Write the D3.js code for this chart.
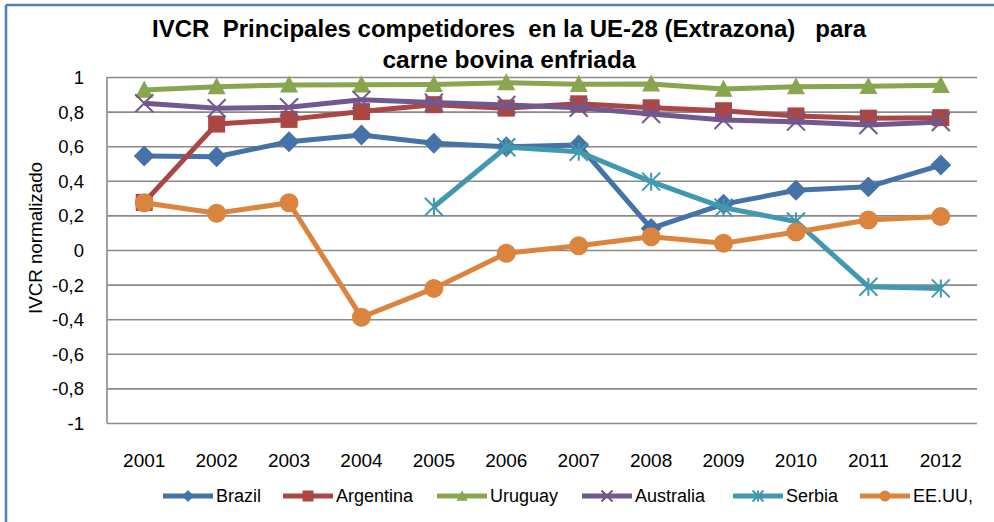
<!DOCTYPE html>
<html><head><meta charset="utf-8">
<script src="https://cdn.jsdelivr.net/npm/d3@7"></script>
<style>
html,body{margin:0;padding:0;background:#fff;}
svg{display:block;}
text{font-family:"Liberation Sans","DejaVu Sans",sans-serif;fill:#000;}
</style></head>
<body>
<svg id="chart" width="994" height="522"></svg>
<script>
const years = ["2001","2002","2003","2004","2005","2006","2007","2008","2009","2010","2011","2012"];
const yTicks = [1,0.8,0.6,0.4,0.2,0,-0.2,-0.4,-0.6,-0.8,-1];
const brazil    = [0.543,0.539,0.626,0.665,0.617,0.597,0.607,0.125,0.265,0.345,0.365,0.491];
const argentina = [0.275,0.728,0.755,0.800,0.840,0.820,0.845,0.822,0.805,0.775,0.762,0.765];
const uruguay   = [0.925,0.944,0.954,0.955,0.957,0.967,0.958,0.960,0.930,0.944,0.946,0.952];
const australia = [0.848,0.819,0.825,0.868,0.852,0.838,0.822,0.786,0.751,0.742,0.723,0.740];
const serbia    = [null,null,null,null,0.250,0.594,0.568,0.395,0.245,0.165,-0.212,-0.222];
const eeuu      = [0.273,0.212,0.273,-0.389,-0.222,-0.019,0.025,0.077,0.039,0.104,0.173,0.193];
const seriesNames = ["Brazil","Argentina","Uruguay","Australia","Serbia","EE.UU,"];
const seriesColors = ["#4572A7","#AA4643","#89A54E","#71588F","#4198AF","#DB843D"];
const seriesMarkers = ["diamond","square","triangle","x","star","circle"];
const seriesValues = [brazil,argentina,uruguay,australia,serbia,eeuu];
const titleLines = ["IVCR  Principales competidores  en la UE-28 (Extrazona)   para","carne bovina enfriada"];
const yLabel = "IVCR normalizado";

const svg = d3.select("#chart");
const M = {left:107, right:977, top:77, bottom:423};

// outer frame
svg.append("line").attr("x1",6).attr("x2",994).attr("y1",5).attr("y2",5).attr("stroke","#4F81BD").attr("stroke-width",2.5);
svg.append("line").attr("x1",6).attr("x2",6).attr("y1",5).attr("y2",522).attr("stroke","#4F81BD").attr("stroke-width",2.5);

const x = d3.scaleBand().domain(years).range([M.left+1, M.right]).paddingInner(0).paddingOuter(0);
const y = d3.scaleLinear().domain([-1,1]).range([M.bottom, M.top]);
const cx = d => x(d) + x.bandwidth()/2;

// gridlines
const yAxis = d3.axisLeft(y).tickValues(yTicks).tickSize(-(M.right-M.left)).tickFormat(d => d3.format("~g")(d).replace(".",",").replace("−","-"));
const gy = svg.append("g").attr("transform",`translate(${M.left},0)`).call(yAxis);
gy.select(".domain").remove();
gy.selectAll(".tick line").attr("stroke","#8a8a8a").attr("stroke-width",1.6);
gy.selectAll(".tick text").attr("x",-23).attr("dy","0.35em").style("font-size","18.5px").style("font-family","Liberation Sans");
// left axis line
svg.append("line").attr("x1",M.left).attr("x2",M.left).attr("y1",M.top).attr("y2",M.bottom).attr("stroke","#8a8a8a").attr("stroke-width",1.6);

// x axis labels
const xAxis = d3.axisBottom(x).tickSize(0).tickPadding(0);
const gx = svg.append("g").attr("transform",`translate(0,${M.bottom})`).call(xAxis);
gx.select(".domain").remove();
gx.selectAll(".tick text").attr("y",37).attr("dy","0.35em").style("font-size","19px").style("font-family","Liberation Sans");

// y label
svg.append("text").attr("transform","translate(36,238) rotate(-90)").attr("text-anchor","middle").attr("dy","0.35em")
  .style("font-size","18px").attr("textLength",152).attr("lengthAdjust","spacingAndGlyphs").text(yLabel);

// title
svg.append("text").attr("x",509).attr("y",37).attr("text-anchor","middle").style("font-size","23px").style("font-weight","bold")
  .style("white-space","pre").attr("xml:space","preserve")
  .attr("textLength",714).attr("lengthAdjust","spacingAndGlyphs").text(titleLines[0]);
svg.append("text").attr("x",509).attr("y",68).attr("text-anchor","middle").style("font-size","23px").style("font-weight","bold")
  .attr("textLength",253).attr("lengthAdjust","spacingAndGlyphs").text(titleLines[1]);

function drawMarker(g, type, color, px, py, s){
  const h = s/2;
  if(type==="diamond"){
    g.append("path").attr("d",`M${px},${py-h*1.1}L${px+h*1.1},${py}L${px},${py+h*1.1}L${px-h*1.1},${py}Z`).attr("fill",color);
  } else if(type==="square"){
    g.append("rect").attr("x",px-h).attr("y",py-h).attr("width",s).attr("height",s).attr("fill",color);
  } else if(type==="triangle"){
    g.append("path").attr("d",`M${px},${py-h*1.05}L${px+h},${py+h*0.85}L${px-h},${py+h*0.85}Z`).attr("fill",color);
  } else if(type==="circle"){
    g.append("circle").attr("cx",px).attr("cy",py).attr("r",h).attr("fill",color);
  } else if(type==="x"){
    g.append("path").attr("d",`M${px-h},${py-h}L${px+h},${py+h}M${px-h},${py+h}L${px+h},${py-h}`).attr("stroke",color).attr("stroke-width",2);
  } else if(type==="star"){
    g.append("path").attr("d",`M${px-h},${py-h}L${px+h},${py+h}M${px-h},${py+h}L${px+h},${py-h}M${px},${py-h}L${px},${py+h}`).attr("stroke",color).attr("stroke-width",2);
  }
}

const markerSize = [19,17,18,18,18,19];
seriesValues.forEach((vals,i)=>{
  const g = svg.append("g");
  const pts = years.map((yr,j)=>({yr, v:vals[j]}));
  const line = d3.line().defined(d=>d.v!==null).x(d=>cx(d.yr)).y(d=>y(d.v));
  g.append("path").datum(pts).attr("d",line).attr("fill","none").attr("stroke",seriesColors[i]).attr("stroke-width",5).attr("stroke-linejoin","round");
  pts.filter(d=>d.v!==null).forEach(d=>drawMarker(g, seriesMarkers[i], seriesColors[i], cx(d.yr), y(d.v), markerSize[i]));
});

// legend
const legendLineX = [163,283,437,582,733,860];
const legY = 496;
seriesNames.forEach((n,i)=>{
  const g = svg.append("g");
  const x0 = legendLineX[i];
  g.append("line").attr("x1",x0).attr("x2",x0+50).attr("y1",legY).attr("y2",legY).attr("stroke",seriesColors[i]).attr("stroke-width",5);
  drawMarker(g, seriesMarkers[i], seriesColors[i], x0+25, legY, 11);
  g.append("text").attr("x",x0+53).attr("y",legY).attr("dy","0.35em").style("font-size","18px").text(n);
});
</script>
</body></html>
